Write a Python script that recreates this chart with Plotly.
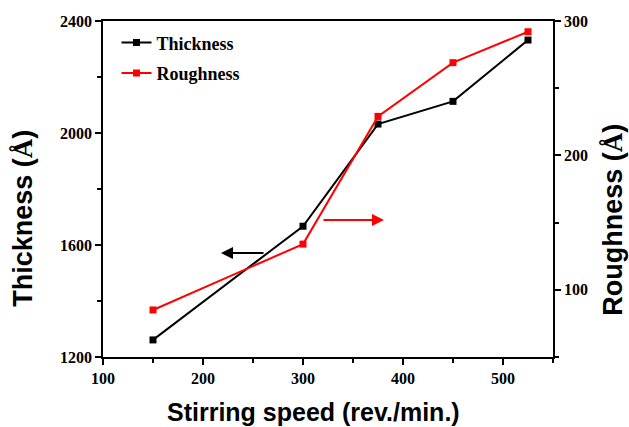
import plotly.graph_objects as go

speed = [150, 300, 375, 450, 525]
thickness = [1261, 1667, 2032, 2113, 2332]
roughness = [85, 134, 229, 269, 292]

x_ticks = [100, 200, 300, 400, 500]
y1_ticks = [1200, 1600, 2000, 2400]
y2_ticks = [100, 200, 300]

tickfont = dict(family="Liberation Serif", size=16, color="black", weight="bold")
titlefont = dict(family="Liberation Sans", size=25, color="black")
ytitlefont = dict(family="Liberation Sans", size=27, color="black")
ang = "<span style='font-family:Liberation Serif'>Å</span>"

fig = go.Figure()
fig.add_trace(go.Scatter(x=speed, y=thickness, name="<b>Thickness</b>", mode="lines+markers", legendgroup="t",
                         line=dict(color="black", width=2), marker=dict(symbol="square", size=7, color="black")))
fig.add_trace(go.Scatter(x=speed, y=roughness, name="<b>Roughness</b>", mode="lines+markers", yaxis="y2",
                         legendgroup="r",
                         line=dict(color="#ff0000", width=2), marker=dict(symbol="square", size=7, color="#ff0000")))

axis_common = dict(showline=True, linecolor="black", linewidth=1.5, ticks="outside", ticklen=6, tickwidth=1.5,
                   tickcolor="black", showgrid=False, zeroline=False, tickfont=tickfont, automargin=False)

fig.update_layout(
    width=629, height=427,
    margin=dict(l=103, r=76, t=21, b=70),
    paper_bgcolor="white", plot_bgcolor="white",
    showlegend=True,
    legend=dict(x=0.03, y=0.99, xanchor="left", yanchor="top", bgcolor="rgba(0,0,0,0)",
                font=dict(family="Liberation Serif", size=18, color="black"), itemwidth=30, tracegroupgap=4),
    xaxis=dict(range=[100, 550], tickvals=x_ticks, mirror=True,
               minor=dict(ticks="outside", dtick=50, ticklen=4, tickcolor="black"),
               **axis_common),
    yaxis=dict(range=[1200, 2400], tickvals=y1_ticks,
               minor=dict(ticks="outside", dtick=200, ticklen=4, tickcolor="black"),
               **axis_common),
    yaxis2=dict(range=[50, 300], tickvals=y2_ticks, overlaying="y", side="right",
                minor=dict(ticks="outside", dtick=50, ticklen=4, tickcolor="black"),
                **axis_common),
)

# axis titles
fig.add_annotation(text="<b>Stirring speed (rev./min.)</b>", xref="paper", yref="paper", x=0.467, y=-0.164,
                   xanchor="center", yanchor="middle", showarrow=False, font=titlefont)
fig.add_annotation(text=f"<b>Thickness ({ang})</b>", xref="paper", yref="paper", x=-0.178, y=0.414,
                   xanchor="center", yanchor="middle", showarrow=False, textangle=-90, font=ytitlefont)
fig.add_annotation(text=f"<b>Roughness ({ang})</b>", xref="paper", yref="paper", x=1.133, y=0.408,
                   xanchor="center", yanchor="middle", showarrow=False, textangle=-90, font=ytitlefont)

# direction arrows
fig.add_annotation(x=218, y=1571, ax=262, ay=1571, xref="x", yref="y", axref="x", ayref="y",
                   showarrow=True, arrowhead=2, arrowsize=1.2, arrowwidth=2, arrowcolor="black", text="")
fig.add_annotation(x=381, y=152, ax=319, ay=152, xref="x", yref="y2", axref="x", ayref="y2",
                   showarrow=True, arrowhead=2, arrowsize=1.2, arrowwidth=2, arrowcolor="#ff0000", text="")

fig.write_html("out.html", config={"displayModeBar": False},
               post_script="document.body.style.margin='0';document.body.style.overflow='hidden';")
